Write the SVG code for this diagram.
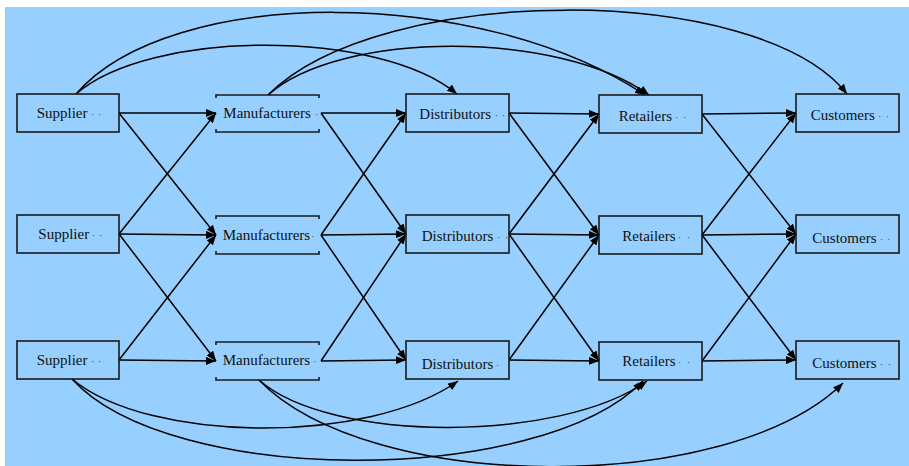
<svg xmlns="http://www.w3.org/2000/svg" width="909" height="466" viewBox="0 0 909 466">
<style>
.bx{fill:none;stroke:#1a1a1a;stroke-width:1.6}
.t{font-family:"Liberation Serif","Times New Roman",serif;font-size:15px;fill:#111}
.d{font-size:11px;fill:#555}
.e{fill:none;stroke:#000;stroke-width:1.5;marker-end:url(#ah)}
</style>
<defs>
<marker id="ah" viewBox="0 0 10 8" refX="10" refY="4" markerWidth="10" markerHeight="8" markerUnits="userSpaceOnUse" orient="auto">
<path d="M0,0 L10,4 L0,8 z" fill="#000"/>
</marker>
</defs>
<rect x="5" y="7" width="904" height="459" fill="#97D0FE"/>
<g id="connectors">
<!-- Supplier -> Manufacturers -->
<path class="e" d="M119,113 L216,113"/>
<path class="e" d="M119,113 L216,235"/>
<path class="e" d="M119,234 L216,113"/>
<path class="e" d="M119,234 L216,235"/>
<path class="e" d="M119,234 L216,361"/>
<path class="e" d="M119,360 L216,235"/>
<path class="e" d="M119,360 L216,361"/>
<!-- Manufacturers -> Distributors -->
<path class="e" d="M321,113 L406,113"/>
<path class="e" d="M321,113 L406,234"/>
<path class="e" d="M321,235 L406,113"/>
<path class="e" d="M321,235 L406,234"/>
<path class="e" d="M321,235 L406,360"/>
<path class="e" d="M321,361 L406,234"/>
<path class="e" d="M321,361 L406,360"/>
<!-- Distributors -> Retailers -->
<path class="e" d="M509,113 L599,114"/>
<path class="e" d="M509,113 L599,235"/>
<path class="e" d="M509,234 L599,114"/>
<path class="e" d="M509,234 L599,235"/>
<path class="e" d="M509,234 L599,361"/>
<path class="e" d="M509,360 L599,235"/>
<path class="e" d="M509,360 L599,361"/>
<!-- Retailers -> Customers -->
<path class="e" d="M702,114 L796,113"/>
<path class="e" d="M702,114 L796,234"/>
<path class="e" d="M702,235 L796,113"/>
<path class="e" d="M702,235 L796,234"/>
<path class="e" d="M702,235 L796,360"/>
<path class="e" d="M702,361 L796,234"/>
<path class="e" d="M702,361 L796,360"/>
<!-- top arcs -->
<path class="e" d="M76,94 C150,29 380,29 457,94"/>
<path class="e" d="M76,94 C170,-15 480,-15 645,95"/>
<path class="e" d="M268,95 C340,30 560,30 649,95"/>
<path class="e" d="M268,95 C380,-18 760,-18 847,94"/>
<!-- bottom arcs -->
<path class="e" d="M72,379 C150,444 370,444 458,381"/>
<path class="e" d="M72,379 C170,487 540,487 643,381"/>
<path class="e" d="M259,380 C330,443 560,443 647,381"/>
<path class="e" d="M259,380 C370,495 730,495 843,383"/>
</g>
<g id="supplier1"><rect class="bx" x="17" y="94" width="102" height="38"/><text class="t" x="36.7" y="118">Supplier<tspan class="d" x="90.7">·</tspan><tspan class="d" x="97.7">·</tspan></text></g>
<g id="supplier2"><rect class="bx" x="17" y="215" width="102" height="38"/><text class="t" x="38.3" y="238.5">Supplier<tspan class="d" x="91.7">·</tspan><tspan class="d" x="98.7">·</tspan></text></g>
<g id="supplier3"><rect class="bx" x="17" y="341" width="102" height="38"/><text class="t" x="36.7" y="365">Supplier<tspan class="d" x="90.7">·</tspan><tspan class="d" x="97.7">·</tspan></text></g>

<g id="manufacturers1"><path class="bx" d="M216,98 V95 H319 V98 M216,129 V132 H319 V129"/><text class="t" x="223.3" y="117.5">Manufacturers<tspan class="d" x="314.7">·</tspan></text></g>
<g id="manufacturers2"><path class="bx" d="M216,219 V216 H319 V219 M216,251 V254 H319 V251"/><text class="t" x="222.7" y="240">Manufacturers<tspan class="d" x="310.7">·</tspan></text></g>
<g id="manufacturers3"><path class="bx" d="M216,345 V342 H319 V345 M216,377 V380 H319 V377"/><text class="t" x="222.7" y="365">Manufacturers<tspan class="d" x="312.7">·</tspan></text></g>

<g id="distributors1"><rect class="bx" x="406" y="94" width="103" height="38"/><text class="t" x="419.3" y="119">Distributors<tspan class="d" x="494.7">·</tspan><tspan class="d" x="501.7">·</tspan></text></g>
<g id="distributors2"><rect class="bx" x="406" y="215" width="103" height="38"/><text class="t" x="421.7" y="241">Distributors<tspan class="d" x="496.7">·</tspan><tspan class="d" x="504.7">·</tspan></text></g>
<g id="distributors3"><rect class="bx" x="406" y="341" width="103" height="38"/><text class="t" x="421.7" y="368.5">Distributors<tspan class="d" x="495.7">·</tspan></text></g>

<g id="retailers1"><rect class="bx" x="599" y="95" width="103" height="38"/><text class="t" x="618.7" y="121">Retailers<tspan class="d" x="674.7">·</tspan><tspan class="d" x="682.7">·</tspan></text></g>
<g id="retailers2"><rect class="bx" x="599" y="216" width="103" height="38"/><text class="t" x="622.3" y="241">Retailers<tspan class="d" x="677.7">·</tspan><tspan class="d" x="686.7">·</tspan></text></g>
<g id="retailers3"><rect class="bx" x="599" y="342" width="103" height="38"/><text class="t" x="622.3" y="366">Retailers<tspan class="d" x="677.7">·</tspan><tspan class="d" x="686.7">·</tspan></text></g>

<g id="customers1"><rect class="bx" x="796" y="94" width="103" height="38"/><text class="t" x="810.7" y="119.5">Customers<tspan class="d" x="877.7">·</tspan><tspan class="d" x="885.7">·</tspan></text></g>
<g id="customers2"><rect class="bx" x="796" y="215" width="103" height="38"/><text class="t" x="812.3" y="242.5">Customers<tspan class="d" x="879.7">·</tspan><tspan class="d" x="886.7">·</tspan></text></g>
<g id="customers3"><rect class="bx" x="796" y="341" width="103" height="38"/><text class="t" x="812.3" y="368">Customers<tspan class="d" x="879.7">·</tspan><tspan class="d" x="887.7">·</tspan></text></g>
</svg>
